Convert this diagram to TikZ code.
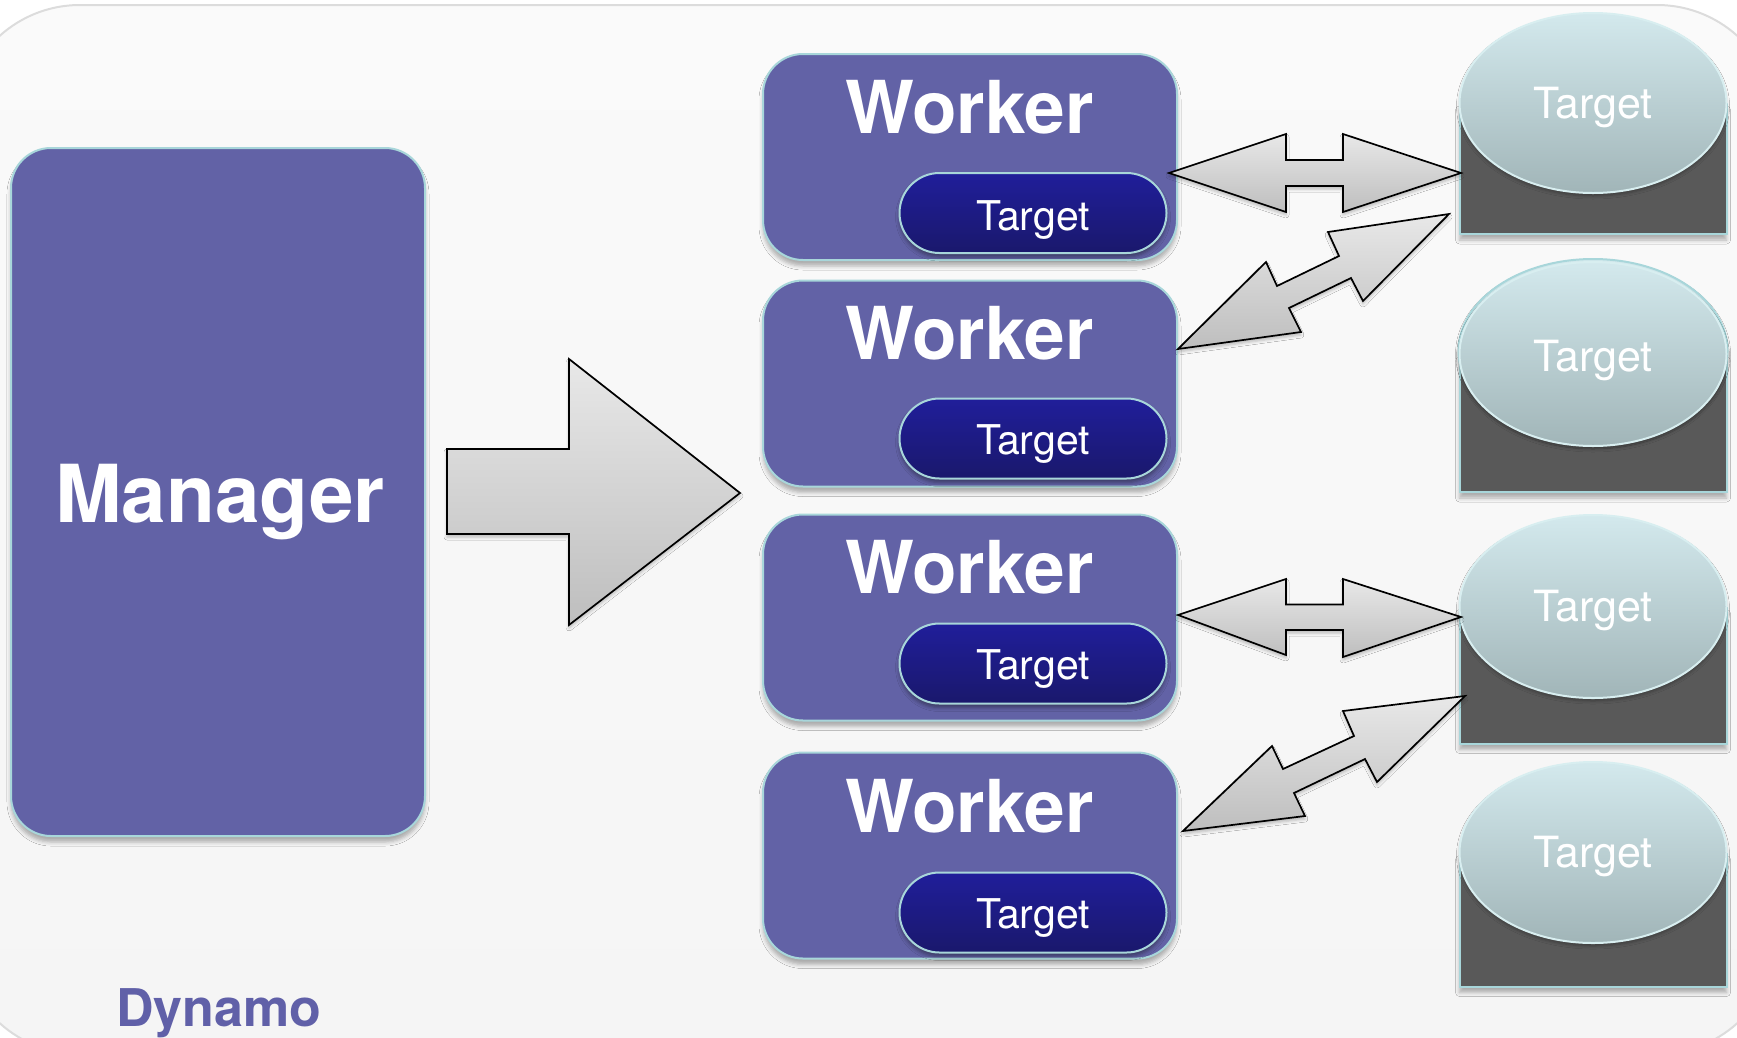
\documentclass[tikz,border=0pt]{standalone}
\usepackage{fontspec}
\setmainfont{TeX Gyre Heros}
\usetikzlibrary{shapes.geometric,shadows.blur}
\definecolor{boxfill}{HTML}{6262A6}
\definecolor{boxedge}{HTML}{A8D6DA}
\definecolor{pilltop}{HTML}{201E9A}
\definecolor{pillbot}{HTML}{1A186C}
\definecolor{cyltop}{HTML}{D3E9ED}
\definecolor{cylbot}{HTML}{A1B5B8}
\definecolor{cyledge}{HTML}{D8EEF0}
\definecolor{cylrect}{HTML}{595959}
\definecolor{arrtop}{HTML}{E8E8E8}
\definecolor{arrbot}{HTML}{BEBEBE}
\definecolor{bgtop}{HTML}{FAFAFA}
\definecolor{bgbot}{HTML}{F5F5F5}
\definecolor{bgedge}{HTML}{DCDCDC}
\definecolor{dyn}{HTML}{6060A8}
\tikzset{
  softshadow/.style={blur shadow={shadow xshift=0pt, shadow yshift=-6pt, shadow blur radius=4pt, shadow opacity=30}},
  panel/.style={draw=boxedge, line width=2pt, fill=boxfill, rounded corners=40pt, inner sep=0pt, softshadow},
  wbox/.style={panel, minimum width=414pt, minimum height=206pt},
  wtext/.style={anchor=base, text=white, font=\fontsize{73}{80}\selectfont\bfseries, inner sep=0pt},
  pill/.style={draw=boxedge, line width=2pt, top color=pilltop, bottom color=pillbot, rounded corners=40pt, minimum width=267pt, minimum height=80pt, inner sep=0pt, blur shadow={shadow xshift=0pt, shadow yshift=-4pt, shadow blur radius=4pt, shadow opacity=40}},
  ttext/.style={anchor=base, text=white, font=\fontsize{41}{48}\selectfont, inner sep=0pt},
  ctext/.style={ttext, font=\fontsize{43}{50}\selectfont},
  cylbase/.style={draw=boxedge, line width=2pt, fill=cylrect, minimum width=267pt, inner sep=0pt, anchor=north, softshadow},
  cyltopst/.style={ellipse, draw=cyledge, line width=2pt, top color=cyltop, bottom color=cylbot, minimum width=267pt, minimum height=180pt, inner sep=0pt, blur shadow={shadow xshift=0pt, shadow yshift=-3pt, shadow blur radius=3pt, shadow opacity=30}},
  blockarrow/.style={draw=black, line width=1.7pt, line join=miter, top color=arrtop, bottom color=arrbot, blur shadow={shadow xshift=0pt, shadow yshift=-3pt, shadow blur radius=3pt, shadow opacity=25}}
}
\begin{document}
\begin{tikzpicture}[x=1pt, y=-1pt]
\useasboundingbox (0,0) rectangle (1737,1037);
\clip (0,0) rectangle (1737,1037);
% background panel
\draw[draw=bgedge, line width=2pt, top color=bgtop, bottom color=bgbot, rounded corners=120pt] (-40,5) rectangle (1777,1054);

% manager
\node[panel, minimum width=414pt, minimum height=688pt] (manager) at (218,492) {};
\node[anchor=base, text=white, font=\fontsize{80}{90}\selectfont\bfseries, inner sep=0pt] (managertext) at (220,522) {Manager};

% workers
\node[wbox] (w1) at (970,157) {};
\node[wbox] (w2) at (970,383.5) {};
\node[wbox] (w3) at (970,617.5) {};
\node[wbox] (w4) at (970,855.5) {};
\node[wtext] (w1t) at (969.5,133) {Worker};
\node[wtext] (w2t) at (969.5,359) {Worker};
\node[wtext] (w3t) at (969.5,593) {Worker};
\node[wtext] (w4t) at (969.5,832) {Worker};

% pills
\node[pill] (p1) at (1033,213) {};
\node[pill] (p2) at (1033,438.5) {};
\node[pill] (p3) at (1033,663.5) {};
\node[pill] (p4) at (1033,912.5) {};
\node[ttext] (p1t) at (1033,230) {Target};
\node[ttext] (p2t) at (1033,454) {Target};
\node[ttext] (p3t) at (1033,679) {Target};
\node[ttext] (p4t) at (1033,928) {Target};

% cylinders
\node[cylbase, minimum height=130pt] (c1b) at (1593,103) {};
\node[cylbase, minimum height=137pt] (c2b) at (1593,354) {};
\node[cylbase, minimum height=136pt] (c3b) at (1593,606.5) {};
\node[cylbase, minimum height=133pt] (c4b) at (1593,852.5) {};
\node[cyltopst] (c1) at (1593,103) {};
\node[cyltopst, minimum width=269pt, minimum height=184pt, draw=boxedge] (c2x) at (1593,351) {};
\node[cyltopst, minimum height=184pt] (c2) at (1593,354) {};
\node[cyltopst, minimum height=183pt] (c3) at (1593,606.5) {};
\node[cyltopst, minimum height=181pt] (c4) at (1593,852.5) {};
\node[ctext] (c1t) at (1593,118) {Target};
\node[ctext] (c2t) at (1593,371) {Target};
\node[ctext] (c3t) at (1593,621) {Target};
\node[ctext] (c4t) at (1593,867) {Target};

% big arrow manager -> workers
\draw[blockarrow] (447,449) -- (569,449) -- (569,359) -- (740,493) -- (569,625) -- (569,534) -- (447,534) -- cycle;

% double arrows
\draw[blockarrow] (1169,173) -- (1286,134) -- (1286,160) -- (1343,160) -- (1343,134) -- (1461,173) -- (1343,212) -- (1343,186) -- (1286,186) -- (1286,212) -- cycle;
\draw[blockarrow] (1178,349) -- (1266,262) -- (1277,286) -- (1339,256) -- (1328,232) -- (1449,214) -- (1363,301) -- (1351,278) -- (1289,308) -- (1301,332) -- cycle;
\draw[blockarrow] (1178,615) -- (1286,579) -- (1286,604.5) -- (1343,604.5) -- (1343,579) -- (1461,617) -- (1343,657) -- (1343,630) -- (1286,630) -- (1286,655) -- cycle;
\draw[blockarrow] (1183,831) -- (1272,746) -- (1283,769) -- (1354,736) -- (1343,711) -- (1465,696) -- (1377,782) -- (1365,759) -- (1294,793) -- (1305,816) -- cycle;

% label
\node[anchor=base west, text=dyn, font=\fontsize{52}{60}\selectfont\bfseries, inner sep=0pt] (dynamo) at (116,1026) {Dynamo};
\end{tikzpicture}
\end{document}
